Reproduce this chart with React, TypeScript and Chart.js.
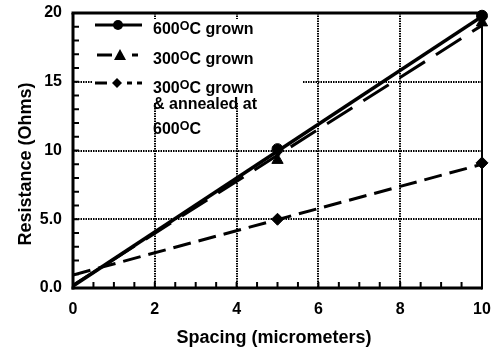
import React, { useEffect, useRef } from 'react';
import { Chart, registerables } from 'chart.js';

Chart.register(...registerables);

// ---- data ----
const spacing = [5, 10];
const r600grown = [10.1, 19.8];
const r300grown = [9.3, 19.3];
const r300annealed = [5.0, 9.1];
const fitX = [0, 10];
const fit600grown = [0.15, 19.75];
const fit300grown = [0.2, 19.1];
const fit300annealed = [0.95, 9.0];
const xLabelTicks = [0, 2, 4, 6, 8, 10];
const yLabelTicks = [0, 5, 10, 15, 20];
const xTitle = 'Spacing (micrometers)';
const yTitle = 'Resistance (Ohms)';
const legendRows = [
  [{ pre: '600', sup: 'O', post: 'C grown' }],
  [{ pre: '300', sup: 'O', post: 'C grown' }],
  [
    { pre: '300', sup: 'O', post: 'C grown' },
    { pre: '& annealed at', sup: '', post: '' },
    { pre: '600', sup: 'O', post: 'C' },
  ],
];

const FONT = '"Liberation Sans", Arial, Helvetica, sans-serif';

const pts = (xs: number[], ys: number[]) => xs.map((x, i) => ({ x, y: ys[i] }));

function seg(ctx: CanvasRenderingContext2D, x1: number, y1: number, x2: number, y2: number) {
  ctx.beginPath();
  ctx.moveTo(x1, y1);
  ctx.lineTo(x2, y2);
  ctx.stroke();
}

const decorations = {
  id: 'decorations',
  beforeDatasetsDraw(chart: any) {
    const { ctx } = chart;
    ctx.save();
    ctx.fillStyle = '#fff';
    ctx.fillRect(93, 19, 210, 84);
    ctx.restore();
  },
  afterDatasetsDraw(chart: any) {
    const { ctx, chartArea: a, scales } = chart;
    const x = scales.x;
    const y = scales.y;
    ctx.save();
    ctx.strokeStyle = '#000';
    ctx.fillStyle = '#000';
    ctx.setLineDash([]);
    // inward minor ticks
    ctx.lineWidth = 2;
    for (let v = 0.5; v < 10; v += 0.5) {
      const px = x.getPixelForValue(v);
      seg(ctx, px, a.bottom, px, a.bottom - 6);
    }
    for (let v = 1; v < 20; v += 1) {
      const py = y.getPixelForValue(v);
      seg(ctx, a.left, py, a.left + 6, py);
    }
    // frame
    ctx.lineWidth = 3;
    seg(ctx, a.left, a.top, a.left, a.bottom + 1.5);
    seg(ctx, a.left - 1.5, a.bottom, a.right, a.bottom);
    seg(ctx, a.left - 1.5, a.top, a.right + 1, a.top);
    ctx.lineWidth = 2;
    seg(ctx, a.right, a.top, a.right, a.bottom + 1.5);

    // legend samples
    ctx.lineWidth = 3;
    seg(ctx, 95, 25, 142, 25);
    ctx.beginPath();
    ctx.arc(118, 25, 5, 0, Math.PI * 2);
    ctx.fill();

    seg(ctx, 97, 55, 112, 55);
    seg(ctx, 132, 55, 138, 55);
    ctx.beginPath();
    ctx.moveTo(120, 49);
    ctx.lineTo(126, 60);
    ctx.lineTo(114, 60);
    ctx.closePath();
    ctx.fill();

    seg(ctx, 95, 83, 107, 83);
    seg(ctx, 127, 83, 132, 83);
    seg(ctx, 137, 83, 142, 83);
    ctx.beginPath();
    ctx.moveTo(117, 78);
    ctx.lineTo(122, 83);
    ctx.lineTo(117, 88);
    ctx.lineTo(112, 83);
    ctx.closePath();
    ctx.fill();

    // legend text
    const baselines = [[34], [64], [93, 109, 134]];
    ctx.textBaseline = 'alphabetic';
    ctx.textAlign = 'left';
    legendRows.forEach((row, ri) => {
      row.forEach((ln, li) => {
        const by = baselines[ri][li];
        let tx = 153;
        ctx.font = `bold 16px ${FONT}`;
        ctx.fillText(ln.pre, tx, by);
        tx += ctx.measureText(ln.pre).width;
        if (ln.sup) {
          ctx.font = `bold 12.5px ${FONT}`;
          ctx.fillText(ln.sup, tx, by - 4.5);
          tx += ctx.measureText(ln.sup).width;
        }
        if (ln.post) {
          ctx.font = `bold 16px ${FONT}`;
          ctx.fillText(ln.post, tx, by);
        }
      });
    });

    // axis titles
    ctx.font = `bold 18px ${FONT}`;
    ctx.textAlign = 'center';
    ctx.fillText(xTitle, 274, 343);
    ctx.save();
    ctx.translate(31, 164);
    ctx.rotate(-Math.PI / 2);
    ctx.fillText(yTitle, 0, 0);
    ctx.restore();
    ctx.restore();
  },
};

export default function App() {
  const ref = useRef<HTMLCanvasElement | null>(null);
  useEffect(() => {
    document.body.style.margin = '0';
    const canvas = ref.current;
    if (!canvas) return;
    const tickFont = { family: FONT, size: 16, weight: 'bold' as const };
    const chart = new Chart(canvas, {
      type: 'scatter',
      data: {
        datasets: [
          {
            data: pts(fitX, fit600grown),
            showLine: true,
            borderColor: '#000',
            borderWidth: 3.5,
            pointRadius: 0,
          },
          {
            data: pts(fitX, fit300grown),
            showLine: true,
            borderColor: '#000',
            borderWidth: 3,
            borderDash: [30, 13],
            pointRadius: 0,
          },
          {
            data: pts(fitX, fit300annealed),
            showLine: true,
            borderColor: '#000',
            borderWidth: 3,
            borderDash: [18, 8],
            pointRadius: 0,
          },
          {
            data: pts(spacing, r600grown),
            showLine: false,
            pointStyle: 'circle',
            pointRadius: 5.5,
            backgroundColor: '#000',
            borderColor: '#000',
            clip: false,
          },
          {
            data: pts(spacing, r300grown),
            showLine: false,
            pointStyle: 'triangle',
            pointRadius: 6.5,
            backgroundColor: '#000',
            borderColor: '#000',
            clip: false,
          },
          {
            data: pts(spacing, r300annealed),
            showLine: false,
            pointStyle: 'rectRot',
            pointRadius: 6,
            backgroundColor: '#000',
            borderColor: '#000',
            clip: false,
          },
        ] as any,
      },
      options: {
        animation: false,
        responsive: false,
        layout: { padding: { top: 13, right: 9, left: 0, bottom: 0 } },
        plugins: { legend: { display: false }, tooltip: { enabled: false } },
        scales: {
          x: {
            type: 'linear',
            min: 0,
            max: 10,
            afterFit: (s: any) => {
              s.height = 66;
              s.paddingLeft = 0;
              s.paddingRight = 0;
            },
            ticks: {
              stepSize: 0.5,
              autoSkip: false,
              maxRotation: 0,
              padding: 12,
              color: '#000',
              font: tickFont,
              callback: (v: any) => (xLabelTicks.includes(Number(v)) ? String(v) : ''),
            },
            grid: {
              drawTicks: false,
              lineWidth: 2,
              color: (c: any) =>
                c.tick && c.tick.value > 0 && c.tick.value < 10 && xLabelTicks.includes(c.tick.value)
                  ? '#000'
                  : 'transparent',
            },
            border: { display: false, dash: [1.5, 1] },
          },
          y: {
            type: 'linear',
            min: 0,
            max: 20,
            afterFit: (s: any) => {
              s.width = 73;
              s.paddingTop = 0;
              s.paddingBottom = 0;
            },
            ticks: {
              stepSize: 1,
              autoSkip: false,
              padding: 11,
              color: '#000',
              font: tickFont,
              callback: (v: any) => {
                const n = Number(v);
                if (!yLabelTicks.includes(n)) return '';
                return n < 10 ? n.toFixed(1) : String(n);
              },
            },
            grid: {
              drawTicks: false,
              lineWidth: 2,
              color: (c: any) =>
                c.tick && c.tick.value > 0 && c.tick.value < 20 && yLabelTicks.includes(c.tick.value)
                  ? '#000'
                  : 'transparent',
            },
            border: { display: false, dash: [1.5, 1] },
          },
        },
      } as any,
      plugins: [decorations],
    });
    return () => chart.destroy();
  }, []);
  return (
    <div style={{ width: 491, height: 354 }}>
      <canvas ref={ref} width={491} height={354} style={{ display: 'block' }} />
    </div>
  );
}
